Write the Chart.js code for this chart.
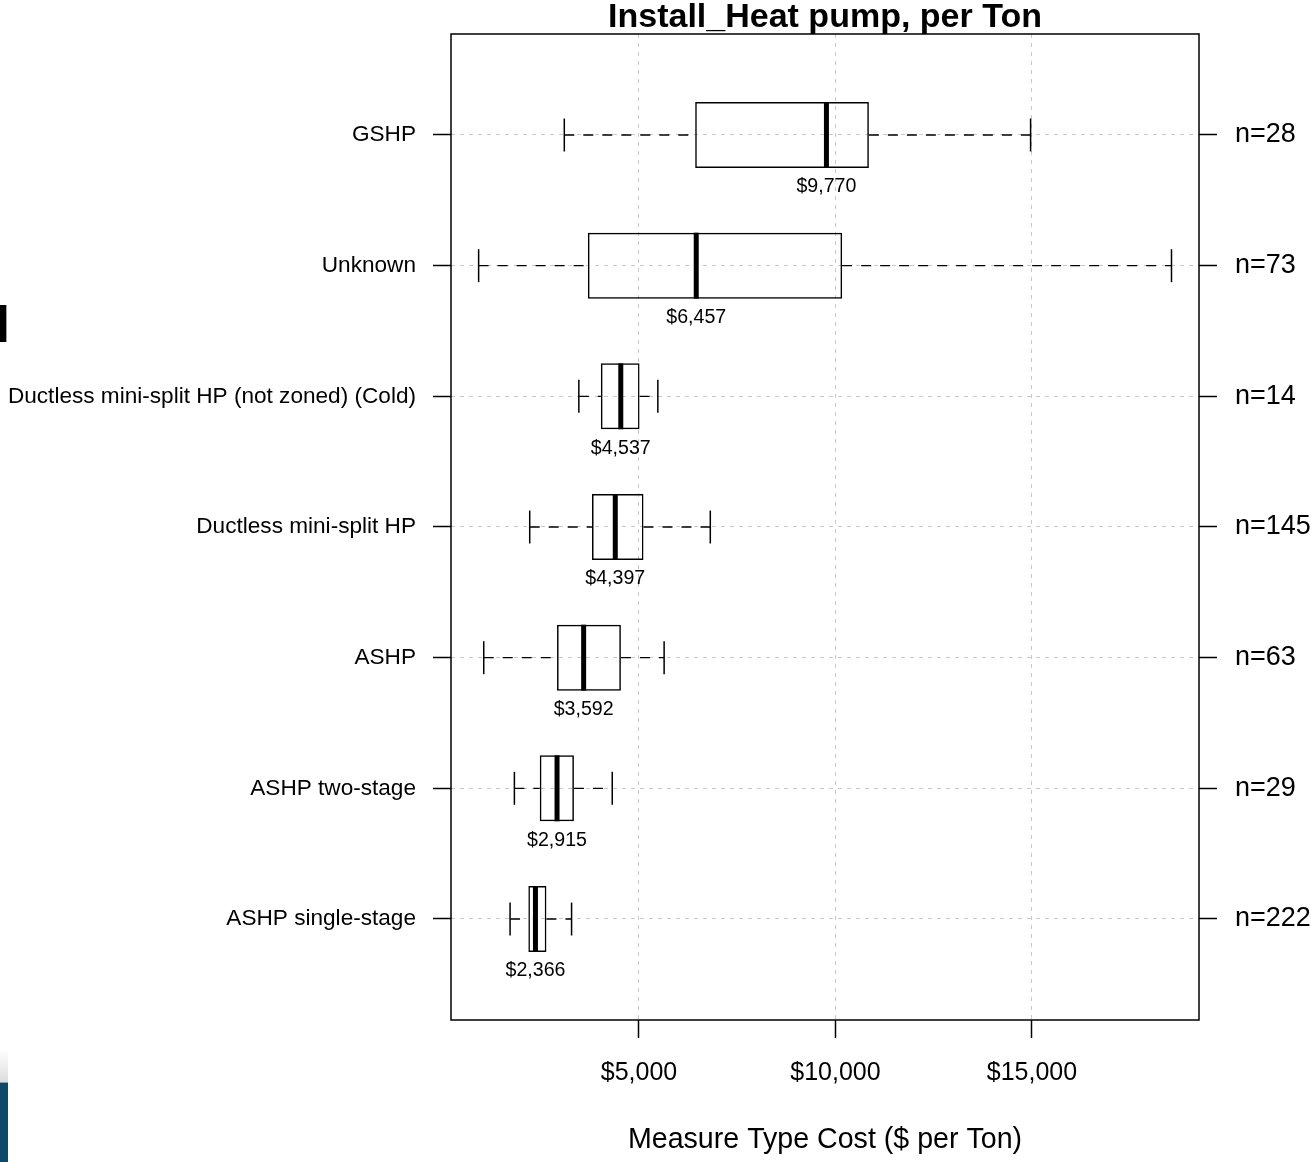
<!DOCTYPE html>
<html>
<head>
<meta charset="utf-8">
<title>Install_Heat pump, per Ton</title>
<script src="https://cdn.jsdelivr.net/npm/chart.js@4.4.1/dist/chart.umd.min.js"></script>
<style>
    html, body { margin: 0; padding: 0; background: #fff; }
    #wrap { position: relative; width: 1314px; height: 1162px; overflow: hidden; }
    #chart { position: absolute; left: 0; top: 0; }
    /* bits of the slide that the crop left on the left edge */
    .edge-n { position: absolute; left: -29px; top: 296px; font: bold 54px "Liberation Sans", Arial, sans-serif; color: #000; line-height: 1; }
    .edge-fade { position: absolute; left: 0; top: 1050px; width: 8px; height: 32px; background: linear-gradient(#fff, #dcdcdc); }
    .edge-bar { position: absolute; left: 0; top: 1082px; width: 8px; height: 80px; background: #0e4868; border-top: 1px solid #8a9bb0; }
</style>
</head>
<body>
<div id="wrap">
    <canvas id="chart" width="1314" height="1162"></canvas>
    <span class="edge-n">N</span>
    <div class="edge-fade"></div>
    <div class="edge-bar"></div>
</div>
<script>
// Install_Heat pump, per Ton -- box & whisker per measure type
// rows go bottom -> top like the lattice panel
const categories = ["ASHP single-stage", "ASHP two-stage", "ASHP", "Ductless mini-split HP",
    "Ductless mini-split HP (not zoned) (Cold)", "Unknown", "GSHP"];
const counts      = [222, 29, 63, 145, 14, 73, 28];
const whiskerLow  = [1720, 1830, 1050, 2220, 3470, 920, 3100];
const boxLow      = [2185, 2475, 2915, 3805, 4030, 3700, 6430];
const medians     = [2366, 2915, 3592, 4397, 4537, 6457, 9770];
const boxHigh     = [2645, 3345, 4540, 5115, 5015, 10170, 10850];
const whiskerHigh = [3285, 4320, 5640, 6815, 5480, 18550, 14965];
const xTicks = [5000, 10000, 15000];

const FONT = '"Liberation Sans", Arial, Helvetica, sans-serif';
Chart.defaults.font.family = FONT;
Chart.defaults.color = "#000";

const rows = categories.map((_, i) => i + 1);
const money = v => "$" + v.toLocaleString("en-US");

const boxPts = rows.map((r, i) => ({ x: [boxLow[i], boxHigh[i]], y: r }));
const medianPts = rows.map((r, i) => ({ x: medians[i], y: r }));
const capPts = rows.flatMap((r, i) => [{ x: whiskerLow[i], y: r }, { x: whiskerHigh[i], y: r }]);
// x:null breaks the line between the two whiskers of a row
const whiskerPts = rows.flatMap((r, i) => [
    { x: whiskerLow[i], y: r }, { x: boxLow[i], y: r }, { x: null, y: r },
    { x: boxHigh[i], y: r }, { x: whiskerHigh[i], y: r }, { x: null, y: r }
]);

// frame round the panel + the median value under each box
const panelExtras = {
    id: "panelExtras",
    afterDatasetsDraw(chart) {
        const { ctx, chartArea: a, scales } = chart;
        ctx.save();
        ctx.strokeStyle = "#000";
        ctx.lineWidth = 1.5;
        ctx.strokeRect(a.left, a.top, a.right - a.left, a.bottom - a.top);
        ctx.fillStyle = "#000";
        ctx.font = "19.6px " + FONT;
        ctx.textAlign = "center";
        ctx.textBaseline = "middle";
        rows.forEach((r, i) => {
            ctx.fillText(money(medians[i]), scales.x.getPixelForValue(medians[i]), scales.y.getPixelForValue(r) + 52);
        });
        ctx.restore();
    }
};

const rowTicks = s => { s.ticks = rows.map(v => ({ value: v })); };
// fixed axis boxes so the panel sits where the lattice one does
const fitSide = w => s => { s.width = w; s.paddingTop = 0; s.paddingBottom = 0; };
const gridOpts = { color: "#c8c8c8", lineWidth: 1, offset: false, tickColor: "#000", tickLength: 18, tickWidth: 1.5, tickBorderDash: [] };

new Chart(document.getElementById("chart"), {
    type: "scatter",
    data: {
        datasets: [
            {
                type: "scatter", label: "median", data: medianPts,
                pointStyle: "line", pointRotation: 90, pointRadius: 33,
                pointBorderWidth: 5, pointBorderColor: "#000", order: 0
            },
            {
                type: "scatter", label: "caps", data: capPts,
                pointStyle: "line", pointRotation: 90, pointRadius: 16.5,
                pointBorderWidth: 1.5, pointBorderColor: "#000", order: 1
            },
            {
                type: "line", label: "whiskers", data: whiskerPts,
                borderColor: "#000", borderWidth: 1.3, borderDash: [10, 9],
                pointRadius: 0, spanGaps: false, order: 2
            },
            {
                type: "bar", label: "box", data: boxPts, indexAxis: "y",
                backgroundColor: "rgba(0,0,0,0)", borderColor: "#000", borderWidth: 1.5,
                borderSkipped: false, barPercentage: 0.505, categoryPercentage: 1, order: 3
            }
        ]
    },
    options: {
        responsive: false,
        animation: false,
        devicePixelRatio: 1,
        layout: { padding: 0, autoPadding: false },
        plugins: {
            legend: { display: false },
            tooltip: { enabled: false },
            title: {
                display: true, text: "Install_Heat pump, per Ton", fullSize: false,
                color: "#000", font: { family: FONT, size: 34, weight: "bold", lineHeight: 0.941 },
                padding: { top: 2, bottom: 0 }
            }
        },
        scales: {
            x: {
                type: "linear", position: "bottom", min: 217, max: 19250, offset: false,
                afterBuildTicks: s => { s.ticks = xTicks.map(v => ({ value: v })); },
                afterFit: s => { s.height = 142; s.paddingLeft = 0; s.paddingRight = 0; },
                grid: gridOpts,
                border: { display: false, dash: [4, 5] },
                ticks: { color: "#000", font: { size: 25 }, padding: 20, callback: v => money(v) },
                title: {
                    display: true, text: "Measure Type Cost ($ per Ton)", color: "#000",
                    font: { size: 28.6 }, padding: { top: 0, bottom: 5 }
                }
            },
            y: {
                type: "linear", position: "left", min: 0.227, max: 7.773, offset: false,
                afterBuildTicks: rowTicks,
                afterFit: fitSide(451),
                grid: gridOpts,
                border: { display: false, dash: [4, 5] },
                ticks: { color: "#000", font: { size: 22.6 }, padding: 17, callback: v => categories[v - 1] }
            },
            yRight: {
                type: "linear", position: "right", min: 0.227, max: 7.773, offset: false,
                afterBuildTicks: rowTicks,
                afterFit: fitSide(115),
                grid: { ...gridOpts, drawOnChartArea: false },
                border: { display: false },
                ticks: { color: "#000", font: { size: 27 }, padding: 18, callback: v => "n=" + counts[v - 1] }
            }
        }
    },
    plugins: [panelExtras]
});
</script>
</body>
</html>
